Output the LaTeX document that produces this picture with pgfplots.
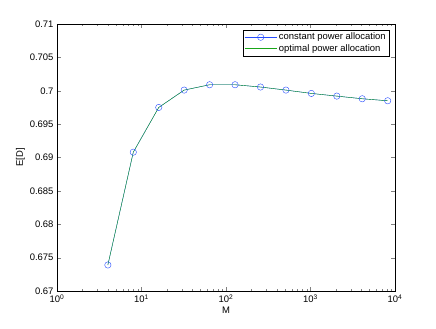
\documentclass[border=0pt]{standalone}
\usepackage{pgfplots}
\pgfplotsset{compat=1.18}
\usepackage{fontspec}
\setmainfont{Liberation Sans}
\definecolor{mblue}{rgb}{0.15,0.3,1}
\definecolor{mgreen}{rgb}{0.1,0.65,0.1}

\begin{document}
\begin{tikzpicture}[x=1bp,y=1bp]
\begin{axis}[
  scale only axis, width=338bp, height=267bp,
  xmode=log, xmin=1, xmax=10000, ymin=0.67, ymax=0.71,
  xtick={1,10,100,1000,10000},
  xticklabels={10\textsuperscript{0},10\textsuperscript{1},10\textsuperscript{2},10\textsuperscript{3},10\textsuperscript{4}},
  ytick={0.67,0.675,...,0.7101},
  yticklabel style={/pgf/number format/fixed,/pgf/number format/precision=3},
  /pgf/number format/assume math mode=true,
  tick align=inside, tick pos=both,
  major tick length=4bp, minor tick length=2bp,
  font=\fontsize{9.5}{11}\selectfont,
  xlabel={M}, ylabel={E[D]},
  xlabel style={yshift=3bp}, ylabel style={yshift=-2bp},
  legend style={at={(0.982,0.978)},anchor=north east,draw=black,
    font=\fontsize{9.5}{11}\selectfont,inner sep=1pt,row sep=-1pt},
  legend cell align=left,
  legend image code/.code={\draw[mark repeat=2,mark phase=2]
    plot coordinates {(0bp,0bp) (16bp,0bp) (32bp,0bp)};},
  clip=false,
]
\addplot[mblue,line width=0.4pt,mark=o,mark size=3.2pt,mark options={solid}] coordinates {
(4,0.6739) (8,0.6908) (16,0.6975) (32,0.7001) (64,0.7009) (128,0.7009)
(256,0.70056) (512,0.7001) (1024,0.6996) (2048,0.6992) (4096,0.6988) (8192,0.6985)};
\addlegendentry{constant power allocation}
\addplot[mgreen,line width=0.4pt] coordinates {
(4,0.6739) (8,0.6908) (16,0.6975) (32,0.7001) (64,0.7009) (128,0.7009)
(256,0.70056) (512,0.7001) (1024,0.6996) (2048,0.6992) (4096,0.6988) (8192,0.6985)};
\addlegendentry{optimal power allocation}
\path (axis description cs:-0.1686,-0.1386) rectangle (axis description cs:1.1213,1.0899);
\end{axis}
\end{tikzpicture}
\end{document}
